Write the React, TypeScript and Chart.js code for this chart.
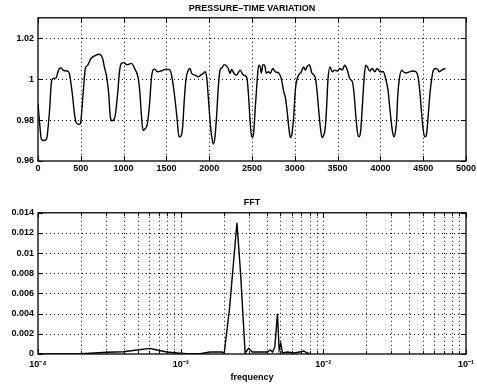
import React, { useEffect, useRef } from "react";
import { Chart, registerables } from "chart.js";
Chart.register(...registerables);

// ---------- data: pressure-time variation ----------
const timeSamples = [
  0, 20, 40, 70, 100, 132, 160, 185, 210, 230, 250, 270, 300, 340, 366, 385, 405, 425, 444, 470,
  490, 502, 530, 553, 580, 619, 678, 716, 755, 775, 802, 826, 845, 864, 896, 927, 954, 973, 1001, 1040,
  1090, 1129, 1168, 1188, 1207, 1227, 1246, 1277, 1304, 1324, 1343, 1363, 1394, 1441, 1500, 1538, 1565, 1597, 1624, 1647,
  1665, 1690, 1706, 1729, 1756, 1776, 1795, 1834, 1873, 1900, 1931, 1951, 1970, 1990, 2010, 2029, 2049, 2068, 2088, 2108,
  2127, 2147, 2177, 2204, 2223, 2243, 2262, 2290, 2321, 2360, 2399, 2438, 2458, 2477, 2496, 2510, 2522, 2539, 2558, 2578,
  2597, 2609, 2628, 2648, 2667, 2695, 2714, 2742, 2773, 2812, 2843, 2870, 2890, 2909, 2929, 2948, 2967, 2987, 3006, 3026,
  3045, 3076, 3103, 3123, 3142, 3170, 3200, 3239, 3259, 3279, 3298, 3318, 3337, 3355, 3370, 3388, 3411, 3438, 3466, 3497,
  3528, 3555, 3582, 3614, 3645, 3672, 3692, 3711, 3731, 3750, 3770, 3789, 3809, 3828, 3848, 3875, 3906, 3933, 3964, 3995,
  4034, 4061, 4089, 4112, 4139, 4159, 4178, 4190, 4202, 4221, 4249, 4268, 4299, 4338, 4377, 4416, 4443, 4463, 4482, 4501,
  4521, 4540, 4560, 4579, 4599, 4618, 4642, 4669, 4688, 4716, 4735, 4759,
];
const pressureValues = [
  0.988, 0.978, 0.9705, 0.970, 0.9708, 0.983, 0.9995, 1.0005, 1.0005, 1.003, 1.0052, 1.0055, 1.0042, 1.004, 1.0028, 0.998, 0.9914, 0.9834, 0.979, 0.9779,
  0.978, 0.980, 0.9946, 1.0052, 1.0068, 1.0101, 1.0117, 1.0122, 1.0101, 1.006, 1.0011, 0.993, 0.9816, 0.9797, 0.981, 0.9914, 1.0044, 1.0077, 1.0081, 1.0071,
  1.0077, 1.0052, 1.0011, 0.9946, 0.983, 0.975, 0.9755, 0.978, 0.9883, 1.0, 1.0044, 1.0049, 1.0036, 1.0041, 1.0049, 1.0047, 1.001, 0.9914, 0.981, 0.9718,
  0.972, 0.9767, 0.988, 1.0, 1.0044, 1.0052, 1.0028, 1.002, 1.0011, 1.002, 1.0028, 1.0036, 1.0011, 0.991, 0.9797, 0.972, 0.9683, 0.972, 0.983, 0.997,
  1.0044, 1.0055, 1.0071, 1.0063, 1.0052, 1.0028, 1.0047, 1.0028, 1.002, 1.0044, 1.002, 1.001, 0.993, 0.980, 0.972, 0.9718, 0.975, 0.9866, 0.998, 1.0068,
  1.006, 1.003, 1.0071, 1.0068, 1.003, 1.0036, 1.0028, 1.0052, 1.0036, 1.003, 1.0, 0.994, 0.991, 0.985, 0.9767, 0.9715, 0.9734, 0.9816, 0.9946, 1.0,
  1.002, 1.0036, 1.006, 1.0044, 1.006, 1.0071, 1.003, 1.0008, 0.9946, 0.985, 0.9767, 0.9715, 0.9726, 0.976, 0.985, 1.0, 1.006, 1.0036, 1.0044, 1.004,
  1.0052, 1.0044, 1.0068, 1.0044, 1.0, 0.9988, 0.993, 0.983, 0.9742, 0.9718, 0.975, 0.9866, 1.0, 1.0068, 1.006, 1.004, 1.0052, 1.0036, 1.0052, 1.0036,
  1.0036, 1.0003, 0.9946, 0.985, 0.975, 0.9718, 0.975, 0.980, 0.9914, 1.0, 1.0044, 1.0036, 1.003, 1.0036, 1.004, 1.0036, 1.0003, 0.993, 0.983, 0.975,
  0.9718, 0.9734, 0.983, 0.993, 1.0, 1.0044, 1.0052, 1.0047, 1.0036, 1.0044, 1.0049, 1.0052,
];
const timeTicks = [0, 500, 1000, 1500, 2000, 2500, 3000, 3500, 4000, 4500, 5000];
const pressureTicks = [0.96, 0.98, 1.0, 1.02];

// ---------- data: FFT ----------
const fftFrequency = [
  1e-4, 1.5e-4, 2e-4, 2.5e-4, 3.05e-4, 3.95e-4, 4.95e-4, 6.1e-4, 6.8e-4, 8e-4, 9.4e-4, 1.1e-3, 1.37e-3, 1.6e-3, 1.94e-3,
  2.02e-3, 2.2e-3, 2.35e-3, 2.48e-3, 2.63e-3, 2.83e-3, 3.0e-3, 3.17e-3, 3.5e-3, 4.05e-3, 4.25e-3, 4.4e-3, 4.57e-3, 4.77e-3,
  4.9e-3, 5.03e-3, 5.17e-3, 5.6e-3, 6.2e-3, 6.8e-3, 7.3e-3, 7.7e-3, 8e-3,
];
const fftAmplitude = [
  0, 0, 0.00002, 0.0001, 0.00017, 0.00023, 0.0004, 0.00056, 0.0004, 0.0002, 0.0001, 0.00002, 0.00002, 0.0002, 0.0002,
  0.0001, 0.0045, 0.0092, 0.013, 0.008, 0.0001, 0.00056, 0.0002, 0.0002, 0.0002, 0.0004, 0.0002, 0.0007, 0.004,
  0.0004, 0.00105, 0.0001, 0.0002, 0.0001, 0.0002, 0.0003, 0.0001, 0.00005,
];
const fftAmpTicks = [0, 0.002, 0.004, 0.006, 0.008, 0.01, 0.012, 0.014];
const fftDecades = [-4, -3, -2, -1];

const FONT = "'Liberation Sans', Arial, Helvetica, sans-serif";
const SUP: Record<string, string> = {
  "-": "\u207B", "0": "\u2070", "1": "\u00B9", "2": "\u00B2", "3": "\u00B3",
  "4": "\u2074", "5": "\u2075", "6": "\u2076", "7": "\u2077", "8": "\u2078", "9": "\u2079",
};
const powerLabel = (exp: number) => "10" + String(exp).split("").map((c) => SUP[c]).join("");

function logTicks() {
  const out: { value: number; major: boolean }[] = [];
  fftDecades.forEach((d, i) => {
    if (i === fftDecades.length - 1) {
      out.push({ value: Math.pow(10, d), major: true });
      return;
    }
    for (let m = 1; m <= 9; m++) out.push({ value: m * Math.pow(10, d), major: m === 1 });
  });
  return out;
}

const matlabAxes = {
  id: "matlabAxes",
  beforeDatasetsDraw(chart: any) {
    const { ctx, chartArea: a, scales } = chart;
    const xs = scales.x;
    const ys = scales.y;
    ctx.save();
    ctx.strokeStyle = "#000";
    // dotted grid
    ctx.lineWidth = 1;
    ctx.setLineDash([1, 3]);
    ctx.beginPath();
    for (const t of xs.ticks) {
      const px = Math.round(xs.getPixelForValue(t.value)) + 0.5;
      if (px <= a.left + 1 || px >= a.right - 1) continue;
      ctx.moveTo(px, a.top);
      ctx.lineTo(px, a.bottom);
    }
    for (const t of ys.ticks) {
      const py = Math.round(ys.getPixelForValue(t.value)) + 0.5;
      if (py <= a.top + 1 || py >= a.bottom - 1) continue;
      ctx.moveTo(a.left, py);
      ctx.lineTo(a.right, py);
    }
    ctx.stroke();
    ctx.setLineDash([]);
    // inward ticks
    ctx.lineWidth = 1;
    ctx.beginPath();
    for (const t of xs.ticks) {
      const px = Math.round(xs.getPixelForValue(t.value)) + 0.5;
      const len = t.major === false ? 3 : 5;
      ctx.moveTo(px, a.bottom);
      ctx.lineTo(px, a.bottom - len);
      ctx.moveTo(px, a.top);
      ctx.lineTo(px, a.top + len);
    }
    for (const t of ys.ticks) {
      const py = Math.round(ys.getPixelForValue(t.value)) + 0.5;
      ctx.moveTo(a.left, py);
      ctx.lineTo(a.left + 5, py);
      ctx.moveTo(a.right, py);
      ctx.lineTo(a.right - 5, py);
    }
    ctx.stroke();
    // frame
    ctx.lineWidth = 1.3;
    ctx.strokeRect(a.left, a.top, a.right - a.left, a.bottom - a.top);
    ctx.restore();
  },
};

const tickFont = { family: FONT, size: 9, weight: "bold" as const };

function PressureChart() {
  const ref = useRef<HTMLCanvasElement | null>(null);
  useEffect(() => {
    if (!ref.current) return;
    const chart = new Chart(ref.current, {
      type: "line",
      data: {
        datasets: [
          {
            data: timeSamples.map((t, i) => ({ x: t, y: pressureValues[i] })),
            borderColor: "#000",
            borderWidth: 1.4,
            pointRadius: 0,
            cubicInterpolationMode: "monotone",
            fill: false,
          },
        ],
      },
      options: {
        animation: false,
        responsive: false,
        layout: { padding: { left: 0, right: 11, top: 0, bottom: 0 } },
        plugins: {
          legend: { display: false },
          tooltip: { enabled: false },
          title: {
            display: true,
            text: "PRESSURE\u2013TIME VARIATION",
            fullSize: false,
            color: "#000",
            font: { family: FONT, size: 9, weight: "bold" },
            padding: { top: 3, bottom: 4 },
          },
        },
        scales: {
          x: {
            type: "linear",
            min: 0,
            max: 5000,
            afterBuildTicks: (s: any) => {
              s.ticks = timeTicks.map((v) => ({ value: v, major: true }));
            },
            afterFit: (s: any) => {
              s.height = 29;
              s.paddingLeft = 0;
              s.paddingRight = 0;
            },
            grid: { display: false, drawTicks: false },
            border: { display: false },
            ticks: {
              autoSkip: false,
              maxRotation: 0,
              padding: 2,
              color: "#000",
              font: tickFont,
              callback: (v: any) => String(v),
            },
          },
          y: {
            type: "linear",
            min: 0.96,
            max: 1.03,
            afterBuildTicks: (s: any) => {
              s.ticks = pressureTicks.map((v) => ({ value: v, major: true }));
            },
            afterFit: (s: any) => {
              s.width = 38;
              s.paddingTop = 0;
              s.paddingBottom = 0;
            },
            grid: { display: false, drawTicks: false },
            border: { display: false },
            ticks: {
              autoSkip: false,
              padding: 4,
              color: "#000",
              font: tickFont,
              callback: (v: any) => String(Math.round(Number(v) * 100) / 100),
            },
          },
        },
      } as any,
      plugins: [matlabAxes],
    });
    return () => chart.destroy();
  }, []);
  return <canvas ref={ref} width={477} height={190} style={{ position: "absolute", left: 0, top: 0, width: 477, height: 190 }} />;
}

function FftChart() {
  const ref = useRef<HTMLCanvasElement | null>(null);
  useEffect(() => {
    if (!ref.current) return;
    const chart = new Chart(ref.current, {
      type: "line",
      data: {
        datasets: [
          {
            data: fftFrequency.map((f, i) => ({ x: f, y: fftAmplitude[i] })),
            borderColor: "#000",
            borderWidth: 1.4,
            pointRadius: 0,
            tension: 0,
            fill: false,
          },
        ],
      },
      options: {
        animation: false,
        responsive: false,
        layout: { padding: { left: 0, right: 11, top: 0, bottom: 0 } },
        plugins: {
          legend: { display: false },
          tooltip: { enabled: false },
          title: {
            display: true,
            text: "FFT",
            fullSize: false,
            color: "#000",
            font: { family: FONT, size: 9, weight: "bold" },
            padding: { top: 7, bottom: 5 },
          },
        },
        scales: {
          x: {
            type: "logarithmic",
            min: 1e-4,
            max: 1e-1,
            afterBuildTicks: (s: any) => {
              s.ticks = logTicks();
            },
            afterFit: (s: any) => {
              s.height = 32;
              s.paddingLeft = 0;
              s.paddingRight = 0;
            },
            grid: { display: false, drawTicks: false },
            border: { display: false },
            title: {
              display: true,
              text: "frequency",
              color: "#000",
              font: { family: FONT, size: 9, weight: "bold" },
              padding: { top: 0, bottom: 3 },
            },
            ticks: {
              autoSkip: false,
              maxRotation: 0,
              padding: 5,
              color: "#000",
              font: tickFont,
              callback: (v: any) => {
                const l = Math.log10(Number(v));
                return Math.abs(l - Math.round(l)) < 1e-9 ? powerLabel(Math.round(l)) : "";
              },
            },
          },
          y: {
            type: "linear",
            min: 0,
            max: 0.014,
            afterBuildTicks: (s: any) => {
              s.ticks = fftAmpTicks.map((v) => ({ value: v, major: true }));
            },
            afterFit: (s: any) => {
              s.width = 38;
              s.paddingTop = 0;
              s.paddingBottom = 0;
            },
            grid: { display: false, drawTicks: false },
            border: { display: false },
            ticks: {
              autoSkip: false,
              padding: 4,
              color: "#000",
              font: tickFont,
              callback: (v: any) => (Number(v) === 0 ? "0" : Number(v).toFixed(3).replace(/0+$/, "")),
            },
          },
        },
      } as any,
      plugins: [matlabAxes],
    });
    return () => chart.destroy();
  }, []);
  return <canvas ref={ref} width={477} height={196} style={{ position: "absolute", left: 0, top: 190, width: 477, height: 196 }} />;
}

export default function App() {
  return (
    <div style={{ position: "absolute", left: 0, top: 0, width: 477, height: 386, background: "#fff" }}>
      <PressureChart />
      <FftChart />
    </div>
  );
}
